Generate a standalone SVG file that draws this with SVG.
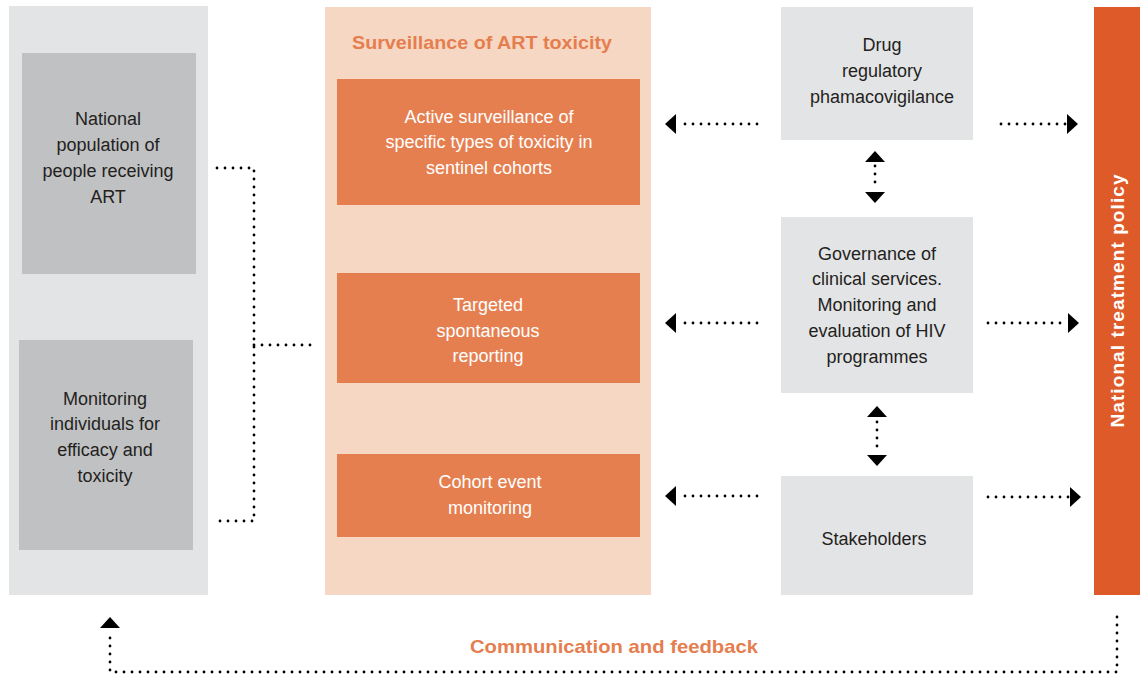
<svg xmlns="http://www.w3.org/2000/svg" width="1144" height="685" viewBox="0 0 1144 685">
<style>
.panel{fill:#e3e4e6}
.gbox{fill:#c0c1c3}
.lbox{fill:#e3e4e6}
.obox{fill:#e67f50}
.t{font-family:"Liberation Sans",Arial,sans-serif;font-size:18px;fill:#231f20;text-anchor:middle}
.w{fill:#ffffff}
.h{font-family:"Liberation Sans",Arial,sans-serif;font-size:19px;font-weight:bold;fill:#e57e4f;text-anchor:middle}
.dot{fill:none;stroke:#000;stroke-width:2.8;stroke-linecap:round;stroke-dasharray:0 8}
.ah{fill:#000}
</style>
<g id="left-panel"><rect class="panel" x="9" y="6" width="199" height="589"/></g>
<g id="national-population"><rect class="gbox" x="22" y="53" width="174" height="221"/>
<text class="t" x="108" y="125">National</text><text class="t" x="108" y="151">population of</text><text class="t" x="108" y="177">people receiving</text><text class="t" x="108" y="203">ART</text></g>
<g id="monitoring-individuals"><rect class="gbox" x="19" y="340" width="174" height="210"/>
<text class="t" x="105" y="405">Monitoring</text><text class="t" x="105" y="430">individuals for</text><text class="t" x="105" y="456">efficacy and</text><text class="t" x="105" y="482">toxicity</text></g>
<g id="surveillance-panel"><rect fill="#f6d7c3" x="325" y="7" width="326" height="588"/>
<text class="h" x="482" y="49" textLength="260" lengthAdjust="spacingAndGlyphs">Surveillance of ART toxicity</text></g>
<g id="active-surveillance"><rect class="obox" x="337" y="79" width="303" height="126"/>
<text class="t w" x="489" y="123">Active surveillance of</text><text class="t w" x="489" y="148">specific types of toxicity in</text><text class="t w" x="489" y="174">sentinel cohorts</text></g>
<g id="targeted-reporting"><rect class="obox" x="337" y="273" width="303" height="110"/>
<text class="t w" x="488" y="311">Targeted</text><text class="t w" x="488" y="337">spontaneous</text><text class="t w" x="488" y="362">reporting</text></g>
<g id="cohort-event"><rect class="obox" x="337" y="454" width="303" height="83"/>
<text class="t w" x="490" y="488">Cohort event</text><text class="t w" x="490" y="514">monitoring</text></g>
<g id="drug-regulatory"><rect class="lbox" x="781" y="7" width="192" height="133"/>
<text class="t" x="882" y="51">Drug</text><text class="t" x="882" y="77">regulatory</text><text class="t" x="882" y="103">phamacovigilance</text></g>
<g id="governance"><rect class="lbox" x="781" y="217" width="192" height="176"/>
<text class="t" x="877" y="260">Governance of</text><text class="t" x="877" y="285">clinical services.</text><text class="t" x="877" y="311">Monitoring and</text><text class="t" x="877" y="337">evaluation of HIV</text><text class="t" x="877" y="363">programmes</text></g>
<g id="stakeholders"><rect class="lbox" x="781" y="476" width="192" height="119"/>
<text class="t" x="874" y="545">Stakeholders</text></g>
<g id="treatment-policy"><rect fill="#de5a29" x="1094" y="7" width="46" height="588"/>
<text transform="translate(1124,301) rotate(-90)" font-family="Liberation Sans,Arial,sans-serif" font-size="19" font-weight="bold" fill="#fff" text-anchor="middle" textLength="253" lengthAdjust="spacing">National treatment policy</text></g>
<g id="connectors">
<path class="dot" d="M217 168 H254 V521 H217"/>
<path class="dot" d="M254 345 H313"/>
<path class="dot" d="M757 124 H677"/><polygon class="ah" points="665,124 676,114 676,134"/>
<path class="dot" d="M757 323 H677"/><polygon class="ah" points="665,323 676,313 676,333"/>
<path class="dot" d="M757 496 H677"/><polygon class="ah" points="665,496 676,486 676,506"/>
<path class="dot" d="M1001 124 H1066"/><polygon class="ah" points="1078,124 1067,114 1067,134"/>
<path class="dot" d="M988 323 H1067"/><polygon class="ah" points="1079,323 1068,313 1068,333"/>
<path class="dot" d="M988 497 H1069"/><polygon class="ah" points="1081,497 1070,487 1070,507"/>
<path class="dot" d="M875 166 V188"/><polygon class="ah" points="875,151 865,162 885,162"/><polygon class="ah" points="875,203 865,192 885,192"/>
<path class="dot" d="M877 422 V450"/><polygon class="ah" points="877,406 867,417 887,417"/><polygon class="ah" points="877,466 867,455 887,455"/>
<path class="dot" d="M1117 617 V672 H110 V630"/><polygon class="ah" points="110,617 100,628 120,628"/>
</g>
<g id="feedback-label"><text class="h" x="614" y="653" textLength="288" lengthAdjust="spacingAndGlyphs">Communication and feedback</text></g>
</svg>
